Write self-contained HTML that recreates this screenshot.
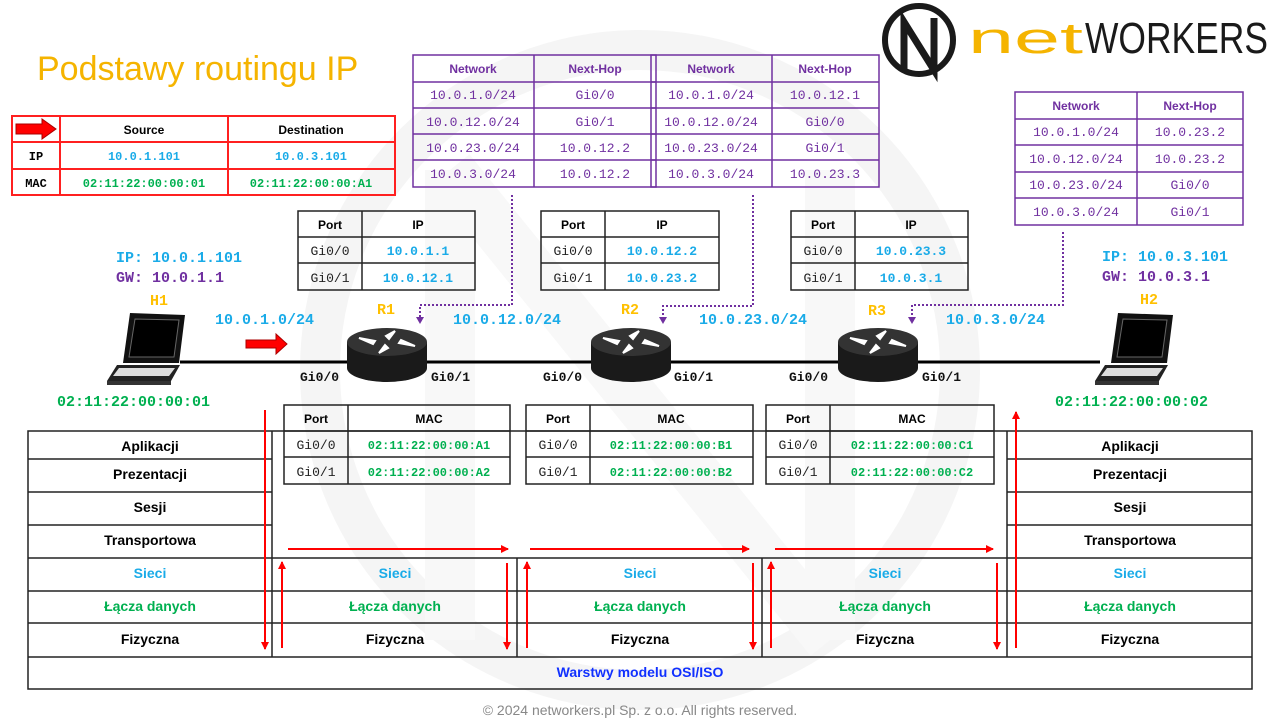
<!DOCTYPE html>
<html><head><meta charset="utf-8"><style>
html,body{margin:0;padding:0;background:#fff;}
svg{display:block;}
.s{font-family:"Liberation Sans",sans-serif;}
.m{font-family:"Liberation Mono",monospace;}
</style></head><body>
<svg width="1280" height="720" viewBox="0 0 1280 720" xmlns="http://www.w3.org/2000/svg">
<defs>
<marker id="ar" markerWidth="8" markerHeight="8" refX="7" refY="4" orient="auto" markerUnits="userSpaceOnUse"><path d="M0,0 L8,4 L0,8 z" fill="#ff0000"/></marker>
<g id="router">
<path d="M-40,0 L-40,26 A40,14 0 0 0 40,26 L40,0 z" fill="#1a1a1a"/>
<ellipse cx="0" cy="0" rx="40" ry="14" fill="#333"/>
<path d="M-28,-4 L-12,-1 L-14,2 z M28,4 L12,1 L14,-2 z M8,-11 L2,-3 L-1,-6 z M-8,11 L-2,3 L1,6 z" fill="#fff" stroke="#fff" stroke-width="2"/>
</g>
<g id="laptop">
<path d="M25,0 L80,2 L74,50 L18,50 z" fill="#111"/>
<path d="M30,6 L74,7 L69,44 L24,44 z" fill="#000" stroke="#666" stroke-width="1"/>
<path d="M12,52 L75,52 L66,68 L2,68 z" fill="#222"/>
<path d="M14,55 L70,55 L64,63 L8,63 z" fill="#ddd"/>
<path d="M2,68 L66,68 L66,72 L2,72 z" fill="#333"/>
</g>
</defs>

<!-- watermark -->
<circle cx="640" cy="370" r="320" fill="none" stroke="#f5f5f5" stroke-width="40"/>
<path d="M450,170 L450,640 M830,170 L830,640 M450,170 L830,640" stroke="#f8f8f8" stroke-width="50" fill="none"/>

<!-- title -->
<text x="37" y="80" class="s" font-size="34" fill="#f5b400">Podstawy routingu IP</text>

<!-- logo -->
<circle cx="919" cy="40" r="34" fill="none" stroke="#1a1a1a" stroke-width="6"/>
<path d="M904,72 L904,22 L934,70 L934,18" fill="none" stroke="#1a1a1a" stroke-width="7"/>
<text x="968" y="53" class="s" font-size="44" fill="#f5b400" textLength="115" lengthAdjust="spacingAndGlyphs">net</text>
<text x="1085" y="53" class="s" font-size="44" fill="#1a1a1a" textLength="183" lengthAdjust="spacingAndGlyphs">WORKERS</text>

<!-- src/dst table -->
<g stroke="#ff2020" stroke-width="2" fill="none">
<rect x="12" y="116" width="383" height="79"/>
<line x1="60" y1="116" x2="60" y2="195"/><line x1="228" y1="116" x2="228" y2="195"/>
<line x1="12" y1="142" x2="395" y2="142"/><line x1="12" y1="169" x2="395" y2="169"/>
</g>
<path d="M16,124 L42,124 L42,119 L56,129 L42,139 L42,134 L16,134 z" fill="#ff0000" stroke="#a00" stroke-width="1"/>
<g class="s" font-size="12" font-weight="bold" text-anchor="middle"><text x="144" y="134">Source</text><text x="311" y="134">Destination</text></g>
<g class="m" font-size="12" font-weight="bold" text-anchor="middle">
<text x="36" y="160">IP</text><text x="36" y="187">MAC</text>
<text x="144" y="160" fill="#1aabe8">10.0.1.101</text><text x="311" y="160" fill="#1aabe8">10.0.3.101</text>
<text x="144" y="187" fill="#00b050">02:11:22:00:00:01</text><text x="311" y="187" fill="#00b050">02:11:22:00:00:A1</text>
</g>

<!-- routing tables -->
<g stroke="#7030a0" stroke-width="1.5" fill="none">
<rect x="413" y="55" width="243" height="132"/><line x1="534" y1="55" x2="534" y2="187"/>
<line x1="413" y1="82" x2="656" y2="82"/><line x1="413" y1="108" x2="656" y2="108"/><line x1="413" y1="134" x2="656" y2="134"/><line x1="413" y1="160" x2="656" y2="160"/>
<rect x="651" y="55" width="228" height="132"/><line x1="772" y1="55" x2="772" y2="187"/>
<line x1="651" y1="82" x2="879" y2="82"/><line x1="651" y1="108" x2="879" y2="108"/><line x1="651" y1="134" x2="879" y2="134"/><line x1="651" y1="160" x2="879" y2="160"/>
<rect x="1015" y="92" width="228" height="133"/><line x1="1137" y1="92" x2="1137" y2="225"/>
<line x1="1015" y1="119" x2="1243" y2="119"/><line x1="1015" y1="145" x2="1243" y2="145"/><line x1="1015" y1="172" x2="1243" y2="172"/><line x1="1015" y1="198" x2="1243" y2="198"/>
</g>
<g class="s" font-size="12" font-weight="bold" fill="#7030a0" text-anchor="middle">
<text x="473" y="73">Network</text><text x="595" y="73">Next-Hop</text>
<text x="711" y="73">Network</text><text x="825" y="73">Next-Hop</text>
<text x="1076" y="110">Network</text><text x="1190" y="110">Next-Hop</text>
</g>
<g class="m" font-size="13" fill="#7030a0" text-anchor="middle">
<text x="473" y="99">10.0.1.0/24</text><text x="595" y="99">Gi0/0</text>
<text x="473" y="126">10.0.12.0/24</text><text x="595" y="126">Gi0/1</text>
<text x="473" y="152">10.0.23.0/24</text><text x="595" y="152">10.0.12.2</text>
<text x="473" y="178">10.0.3.0/24</text><text x="595" y="178">10.0.12.2</text>
<text x="711" y="99">10.0.1.0/24</text><text x="825" y="99">10.0.12.1</text>
<text x="711" y="126">10.0.12.0/24</text><text x="825" y="126">Gi0/0</text>
<text x="711" y="152">10.0.23.0/24</text><text x="825" y="152">Gi0/1</text>
<text x="711" y="178">10.0.3.0/24</text><text x="825" y="178">10.0.23.3</text>
<text x="1076" y="136">10.0.1.0/24</text><text x="1190" y="136">10.0.23.2</text>
<text x="1076" y="163">10.0.12.0/24</text><text x="1190" y="163">10.0.23.2</text>
<text x="1076" y="189">10.0.23.0/24</text><text x="1190" y="189">Gi0/0</text>
<text x="1076" y="216">10.0.3.0/24</text><text x="1190" y="216">Gi0/1</text>
</g>

<!-- dotted connectors -->
<g stroke="#7030a0" stroke-width="2" stroke-dasharray="2,2" fill="none">
<path d="M512,195 L512,305 L420,305 L420,318"/>
<path d="M753,195 L753,306 L663,306 L663,318"/>
<path d="M1063,232 L1063,305 L912,305 L912,318"/>
</g>
<g fill="#7030a0"><path d="M416,317 L424,317 L420,324 z"/><path d="M659,317 L667,317 L663,324 z"/><path d="M908,317 L916,317 L912,324 z"/></g>

<!-- port/ip tables -->
<g stroke="#222" stroke-width="1.5" fill="none">
<rect x="298" y="211" width="177" height="79"/><line x1="362" y1="211" x2="362" y2="290"/><line x1="298" y1="237" x2="475" y2="237"/><line x1="298" y1="263" x2="475" y2="263"/>
<rect x="541" y="211" width="178" height="79"/><line x1="605" y1="211" x2="605" y2="290"/><line x1="541" y1="237" x2="719" y2="237"/><line x1="541" y1="263" x2="719" y2="263"/>
<rect x="791" y="211" width="177" height="79"/><line x1="855" y1="211" x2="855" y2="290"/><line x1="791" y1="237" x2="968" y2="237"/><line x1="791" y1="263" x2="968" y2="263"/>
<rect x="284" y="405" width="226" height="79"/><line x1="348" y1="405" x2="348" y2="484"/><line x1="284" y1="431" x2="510" y2="431"/><line x1="284" y1="457" x2="510" y2="457"/>
<rect x="526" y="405" width="227" height="79"/><line x1="590" y1="405" x2="590" y2="484"/><line x1="526" y1="431" x2="753" y2="431"/><line x1="526" y1="457" x2="753" y2="457"/>
<rect x="766" y="405" width="228" height="79"/><line x1="830" y1="405" x2="830" y2="484"/><line x1="766" y1="431" x2="994" y2="431"/><line x1="766" y1="457" x2="994" y2="457"/>
</g>
<g class="s" font-size="12" font-weight="bold" text-anchor="middle">
<text x="330" y="229">Port</text><text x="418" y="229">IP</text>
<text x="573" y="229">Port</text><text x="662" y="229">IP</text>
<text x="823" y="229">Port</text><text x="911" y="229">IP</text>
<text x="316" y="423">Port</text><text x="429" y="423">MAC</text>
<text x="558" y="423">Port</text><text x="671" y="423">MAC</text>
<text x="798" y="423">Port</text><text x="912" y="423">MAC</text>
</g>
<g class="m" font-size="13" text-anchor="middle" fill="#222">
<text x="330" y="255">Gi0/0</text><text x="330" y="282">Gi0/1</text>
<text x="573" y="255">Gi0/0</text><text x="573" y="282">Gi0/1</text>
<text x="823" y="255">Gi0/0</text><text x="823" y="282">Gi0/1</text>
<text x="316" y="449">Gi0/0</text><text x="316" y="476">Gi0/1</text>
<text x="558" y="449">Gi0/0</text><text x="558" y="476">Gi0/1</text>
<text x="798" y="449">Gi0/0</text><text x="798" y="476">Gi0/1</text>
</g>
<g class="m" font-size="13" font-weight="bold" text-anchor="middle" fill="#1aabe8">
<text x="418" y="255">10.0.1.1</text><text x="418" y="282">10.0.12.1</text>
<text x="662" y="255">10.0.12.2</text><text x="662" y="282">10.0.23.2</text>
<text x="911" y="255">10.0.23.3</text><text x="911" y="282">10.0.3.1</text>
</g>
<g class="m" font-size="12" font-weight="bold" text-anchor="middle" fill="#00b050">
<text x="429" y="449">02:11:22:00:00:A1</text><text x="429" y="476">02:11:22:00:00:A2</text>
<text x="671" y="449">02:11:22:00:00:B1</text><text x="671" y="476">02:11:22:00:00:B2</text>
<text x="912" y="449">02:11:22:00:00:C1</text><text x="912" y="476">02:11:22:00:00:C2</text>
</g>

<!-- network line -->
<line x1="180" y1="362" x2="1100" y2="362" stroke="#000" stroke-width="3"/>
<use href="#router" x="387" y="342"/>
<use href="#router" x="631" y="342"/>
<use href="#router" x="878" y="342"/>
<use href="#laptop" x="105" y="313"/>
<use href="#laptop" x="1093" y="313"/>
<path d="M246,340 L276,340 L276,334 L287,344 L276,354 L276,348 L246,348 z" fill="#ff0000" stroke="#a00" stroke-width="1"/>

<g class="m" font-weight="bold">
<text x="116" y="262" font-size="15" fill="#1aabe8">IP: 10.0.1.101</text>
<text x="116" y="282" font-size="15" fill="#7030a0">GW: 10.0.1.1</text>
<text x="150" y="305" font-size="15" fill="#ffc000">H1</text>
<text x="1102" y="261" font-size="15" fill="#1aabe8">IP: 10.0.3.101</text>
<text x="1102" y="281" font-size="15" fill="#7030a0">GW: 10.0.3.1</text>
<text x="1140" y="304" font-size="15" fill="#ffc000">H2</text>
<text x="377" y="314" font-size="15" fill="#ffc000">R1</text>
<text x="621" y="314" font-size="15" fill="#ffc000">R2</text>
<text x="868" y="315" font-size="15" fill="#ffc000">R3</text>
<text x="215" y="324" font-size="15" fill="#1aabe8">10.0.1.0/24</text>
<text x="453" y="324" font-size="15" fill="#1aabe8">10.0.12.0/24</text>
<text x="699" y="324" font-size="15" fill="#1aabe8">10.0.23.0/24</text>
<text x="946" y="324" font-size="15" fill="#1aabe8">10.0.3.0/24</text>
<text x="57" y="406" font-size="15" fill="#00b050">02:11:22:00:00:01</text>
<text x="1055" y="406" font-size="15" fill="#00b050">02:11:22:00:00:02</text>
<g font-size="13" fill="#111">
<text x="300" y="381">Gi0/0</text><text x="431" y="381">Gi0/1</text>
<text x="543" y="381">Gi0/0</text><text x="674" y="381">Gi0/1</text>
<text x="789" y="381">Gi0/0</text><text x="922" y="381">Gi0/1</text>
</g>
</g>

<!-- OSI table -->
<g stroke="#222" stroke-width="1.5" fill="none">
<rect x="28" y="431" width="1224" height="258"/>
<line x1="28" y1="657" x2="1252" y2="657"/>
<line x1="272" y1="431" x2="272" y2="657"/>
<line x1="1007" y1="431" x2="1007" y2="657"/>
<line x1="517" y1="558" x2="517" y2="657"/>
<line x1="762" y1="558" x2="762" y2="657"/>
<line x1="28" y1="459" x2="272" y2="459"/><line x1="1007" y1="459" x2="1252" y2="459"/>
<line x1="28" y1="492" x2="272" y2="492"/><line x1="1007" y1="492" x2="1252" y2="492"/>
<line x1="28" y1="525" x2="272" y2="525"/><line x1="1007" y1="525" x2="1252" y2="525"/>
<line x1="28" y1="558" x2="1252" y2="558"/>
<line x1="28" y1="591" x2="1252" y2="591"/>
<line x1="28" y1="623" x2="1252" y2="623"/>
</g>
<g class="s" font-size="14" font-weight="bold" text-anchor="middle">
<text x="150" y="451">Aplikacji</text><text x="1130" y="451">Aplikacji</text>
<text x="150" y="479">Prezentacji</text><text x="1130" y="479">Prezentacji</text>
<text x="150" y="512">Sesji</text><text x="1130" y="512">Sesji</text>
<text x="150" y="545">Transportowa</text><text x="1130" y="545">Transportowa</text>
<g fill="#1aabe8"><text x="150" y="578">Sieci</text><text x="395" y="578">Sieci</text><text x="640" y="578">Sieci</text><text x="885" y="578">Sieci</text><text x="1130" y="578">Sieci</text></g>
<g fill="#00b050"><text x="150" y="611">Łącza danych</text><text x="395" y="611">Łącza danych</text><text x="640" y="611">Łącza danych</text><text x="885" y="611">Łącza danych</text><text x="1130" y="611">Łącza danych</text></g>
<text x="150" y="644">Fizyczna</text><text x="395" y="644">Fizyczna</text><text x="640" y="644">Fizyczna</text><text x="885" y="644">Fizyczna</text><text x="1130" y="644">Fizyczna</text>
<text x="640" y="677" fill="#1030ff">Warstwy modelu OSI/ISO</text>
</g>

<!-- red flow arrows -->
<g stroke="#ff0000" stroke-width="2" fill="none" marker-end="url(#ar)">
<line x1="265" y1="410" x2="265" y2="649"/>
<line x1="282" y1="648" x2="282" y2="562"/>
<line x1="288" y1="549" x2="508" y2="549"/>
<line x1="507" y1="563" x2="507" y2="649"/>
<line x1="527" y1="648" x2="527" y2="562"/>
<line x1="530" y1="549" x2="749" y2="549"/>
<line x1="753" y1="563" x2="753" y2="649"/>
<line x1="771" y1="648" x2="771" y2="562"/>
<line x1="775" y1="549" x2="993" y2="549"/>
<line x1="997" y1="563" x2="997" y2="649"/>
<line x1="1016" y1="648" x2="1016" y2="412"/>
</g>

<text x="640" y="715" class="s" font-size="14" fill="#888" text-anchor="middle">© 2024 networkers.pl Sp. z o.o. All rights reserved.</text>
</svg>
</body></html>
